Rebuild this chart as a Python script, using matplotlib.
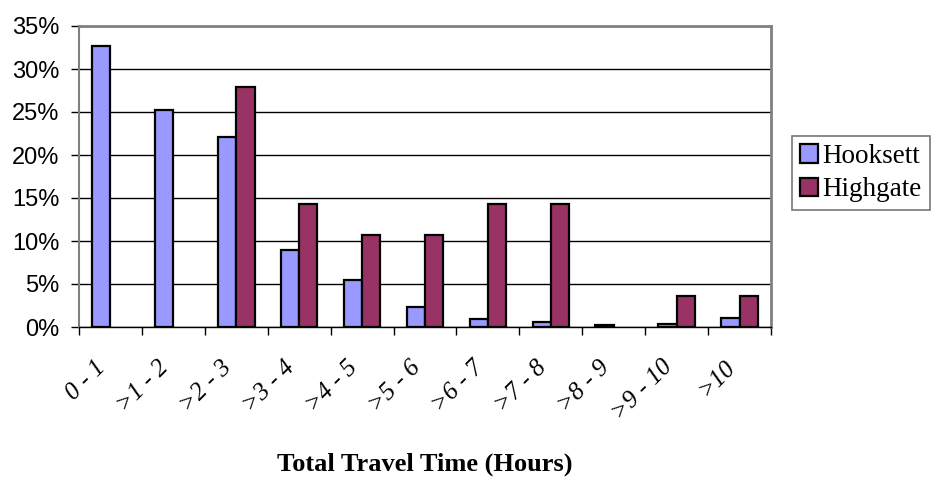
import matplotlib
matplotlib.use("Agg")
import matplotlib.pyplot as plt
import numpy as np
from matplotlib.ticker import FixedLocator, PercentFormatter

categories = ["0 - 1", ">1 - 2", ">2 - 3", ">3 - 4", ">4 - 5", ">5 - 6",
              ">6 - 7", ">7 - 8", ">8 - 9", ">9 - 10", ">10"]
hooksett = [32.7, 25.2, 22.1, 8.9, 5.5, 2.3, 0.9, 0.6, 0.2, 0.4, 1.1]
highgate = [0.0, 0.0, 27.9, 14.3, 10.7, 10.7, 14.3, 14.3, 0.0, 3.6, 3.6]
series_names = ["Hooksett", "Highgate"]
colors = ["#9999FF", "#993366"]

fig = plt.figure(figsize=(9.34, 4.78), dpi=100)
ax = fig.add_axes([79/934, 1-327/478, (771-79)/934, (327-26)/478])

x = np.arange(len(categories))
w = 0.29
for i, (vals, name, c) in enumerate(zip([hooksett, highgate], series_names, colors)):
    xs = x + (i - 0.5) * w
    mask = [v > 0 for v in vals]
    ax.bar(xs[mask], np.array(vals)[mask], width=w, color=c, edgecolor="black",
           linewidth=1.6, label=name, zorder=3)

ax.set_xlim(-0.5, len(categories) - 0.5)
ax.set_ylim(0, 35)
ax.yaxis.set_major_locator(FixedLocator(np.arange(0, 36, 5)))
ax.yaxis.set_major_formatter(PercentFormatter(decimals=0))
ax.grid(axis="y", color="black", linewidth=1, zorder=0)
ax.set_axisbelow(True)

ax.set_xticks(x)
ax.set_xticks(np.arange(-0.5, len(categories)), minor=True)
ax.tick_params(axis="x", which="major", length=0, pad=21)
ax.tick_params(axis="x", which="minor", length=6, width=1, color="black")
ax.tick_params(axis="y", length=6, width=1, color="black", pad=8)
ax.set_xticklabels(categories, rotation=45, ha="right", va="top",
                   fontfamily="Liberation Serif", fontstyle="italic", fontsize=18)
for lab in ax.get_yticklabels():
    lab.set_fontfamily("Liberation Sans")
    lab.set_fontsize(17)

for side in ["top", "right"]:
    ax.spines[side].set_color("#808080")
    ax.spines[side].set_linewidth(2)
ax.spines["left"].set_color("#808080")
ax.spines["left"].set_linewidth(1.5)
ax.spines["bottom"].set_color("black")
ax.spines["bottom"].set_linewidth(1)

fig.text(425/934, 1-471/478, "Total Travel Time (Hours)", ha="center", va="baseline",
         fontfamily="Liberation Serif", fontweight="bold", fontsize=19)

leg = ax.legend(loc="upper left", bbox_to_anchor=(792/934, 1-136/478),
                bbox_transform=fig.transFigure, frameon=True, fancybox=False,
                prop={"family": "Liberation Serif", "size": 19.5},
                handlelength=0.67, handleheight=0.67, handletextpad=0.15,
                borderpad=0.3, labelspacing=0.3, borderaxespad=0)
leg.get_frame().set_edgecolor("#555555")
leg.get_frame().set_linewidth(1.2)

fig.savefig("out.png", dpi=100)
